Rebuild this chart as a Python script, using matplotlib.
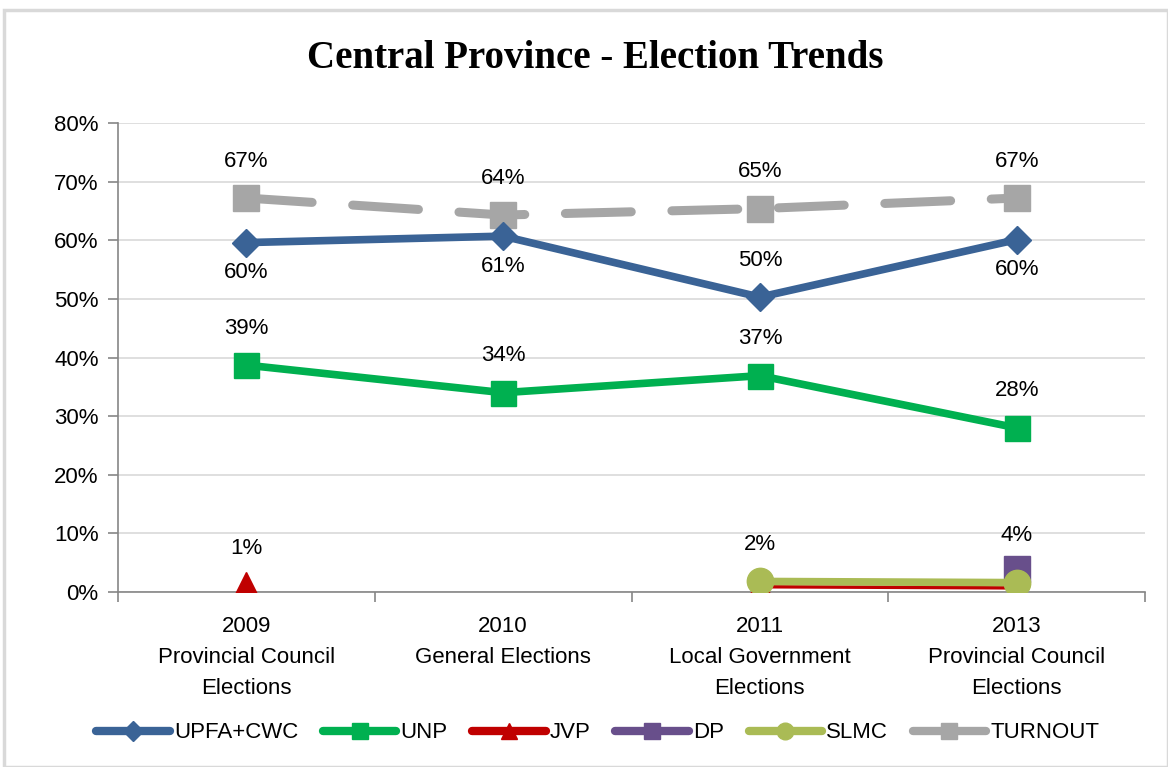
import matplotlib
matplotlib.use("Agg")
import matplotlib.pyplot as plt
from matplotlib.patches import Rectangle
from matplotlib.lines import Line2D
import numpy as np

categories = ["2009\nProvincial Council\nElections", "2010\nGeneral Elections",
              "2011\nLocal Government\nElections", "2013\nProvincial Council\nElections"]
upfa = [59.6, 60.7, 50.3, 60.1]
unp = [38.7, 34.0, 36.9, 28.0]
jvp = [1.2, None, 0.9, 0.7]
dp = [None, None, None, 3.9]
slmc = [None, None, 1.8, 1.6]
turnout = [67.2, 64.3, 65.4, 67.2]

upfa_labels = ["60%", "61%", "50%", "60%"]
unp_labels = ["39%", "34%", "37%", "28%"]
turnout_labels = ["67%", "64%", "65%", "67%"]
jvp_labels = ["1%", None, None, None]
dp_labels = [None, None, None, "4%"]
slmc_labels = [None, None, "2%", None]
yticks = [0, 10, 20, 30, 40, 50, 60, 70, 80]
names = ["UPFA+CWC", "UNP", "JVP", "DP", "SLMC", "TURNOUT"]

SANS = ["Liberation Sans Narrow", "Liberation Sans", "DejaVu Sans"]
SERIF = ["Liberation Serif", "DejaVu Serif"]
FS = 16

C_UPFA, C_UNP, C_JVP, C_DP, C_SLMC, C_TURN = "#3A6396", "#00B050", "#C00000", "#684F8B", "#AABB55", "#A6A6A6"

fig = plt.figure(figsize=(11.68, 7.67), dpi=100)
fig.patches.append(Rectangle((4/1168, 0), 1 - 4/1168, 1 - 10/767, transform=fig.transFigure,
                             fill=False, edgecolor="#D9D9D9", linewidth=2.5))
ax = fig.add_axes([118/1168, 1 - 592/767, (1145-118)/1168, (592-123)/767])

x = np.arange(len(categories))

def arr(v):
    return np.array([np.nan if a is None else a for a in v], dtype=float)

ax.plot(x, arr(turnout), color=C_TURN, lw=6.5, dashes=(7.3, 4.5), dash_capstyle="round",
        marker="s", ms=19, mfc=C_TURN, mec=C_TURN, zorder=3)
ax.plot(x, arr(upfa), color=C_UPFA, lw=5.5, marker="D", ms=14,
        mfc=C_UPFA, mec=C_UPFA, zorder=4)
ax.plot(x, arr(unp), color=C_UNP, lw=5.5, marker="s", ms=18,
        mfc=C_UNP, mec=C_UNP, zorder=4)
ax.plot(x, arr(jvp), color=C_JVP, lw=2.5, marker="^", ms=19,
        mfc=C_JVP, mec=C_JVP, zorder=4)
ax.plot(x, arr(dp), color=C_DP, lw=5.5, marker="s", ms=19,
        mfc=C_DP, mec=C_DP, zorder=5)
ax.plot(x, arr(slmc), color=C_SLMC, lw=5.5, marker="o", ms=19,
        mfc=C_SLMC, mec=C_SLMC, zorder=6)

def label(vals, labs, dy):
    for xi, v, l, d in zip(x, vals, labs, dy):
        if v is None or l is None:
            continue
        ax.annotate(l, (xi, v), xytext=(0, d), textcoords="offset points",
                    ha="center", va="bottom" if d > 0 else "top",
                    fontsize=FS, family=SANS, color="black", zorder=10)

label(turnout, turnout_labels, [19] * 4)
label(unp, unp_labels, [19] * 4)
label(jvp, jvp_labels, [19] * 4)
label(dp, dp_labels, [17] * 4)
label(slmc, slmc_labels, [19] * 4)
label(upfa, upfa_labels, [-14, -14, 19, -14])

ax.set_xlim(-0.5, 3.5)
ax.set_ylim(0, 80)
ax.set_yticks(yticks)
ax.set_yticklabels([f"{t}%" for t in yticks], family=SANS, fontsize=FS)
ax.yaxis.grid(True, color="#D9D9D9", lw=1.2)
ax.set_axisbelow(True)
ax.set_xticks(x)
ax.set_xticklabels(categories, family=SANS, fontsize=FS, linespacing=1.62)
ax.tick_params(axis="x", length=0, pad=17.5)
ax.set_xticks(np.arange(-0.5, 4.0, 1.0), minor=True)
ax.tick_params(axis="x", which="minor", length=7, color="#868686", width=1.2)
ax.tick_params(axis="y", length=7, color="#868686", width=1.2, pad=7)
for s in ["top", "right"]:
    ax.spines[s].set_visible(False)
for s in ["left", "bottom"]:
    ax.spines[s].set_color("#868686")
    ax.spines[s].set_linewidth(1.2)

fig.text(595/1168, 1 - 59/767, "Central Province - Election Trends", ha="center", va="center",
         fontsize=28, fontweight="bold", family=SERIF)

handles = [
    Line2D([], [], color=C_UPFA, lw=6, marker="D", ms=10, solid_capstyle="round"),
    Line2D([], [], color=C_UNP, lw=6, marker="s", ms=12, solid_capstyle="round"),
    Line2D([], [], color=C_JVP, lw=6, marker="^", ms=12, solid_capstyle="round"),
    Line2D([], [], color=C_DP, lw=6, marker="s", ms=12, solid_capstyle="round"),
    Line2D([], [], color=C_SLMC, lw=6, marker="o", ms=12, solid_capstyle="round"),
    Line2D([], [], color=C_TURN, lw=6, marker="s", ms=12, solid_capstyle="round"),
]
fig.legend(handles, names, loc="center", bbox_to_anchor=(598/1168, 1 - 733/767), ncol=6,
           frameon=False, prop={"family": SANS, "size": FS}, handlelength=3.3,
           handletextpad=0.2, columnspacing=1.1)

fig.savefig("out.png", dpi=100)
